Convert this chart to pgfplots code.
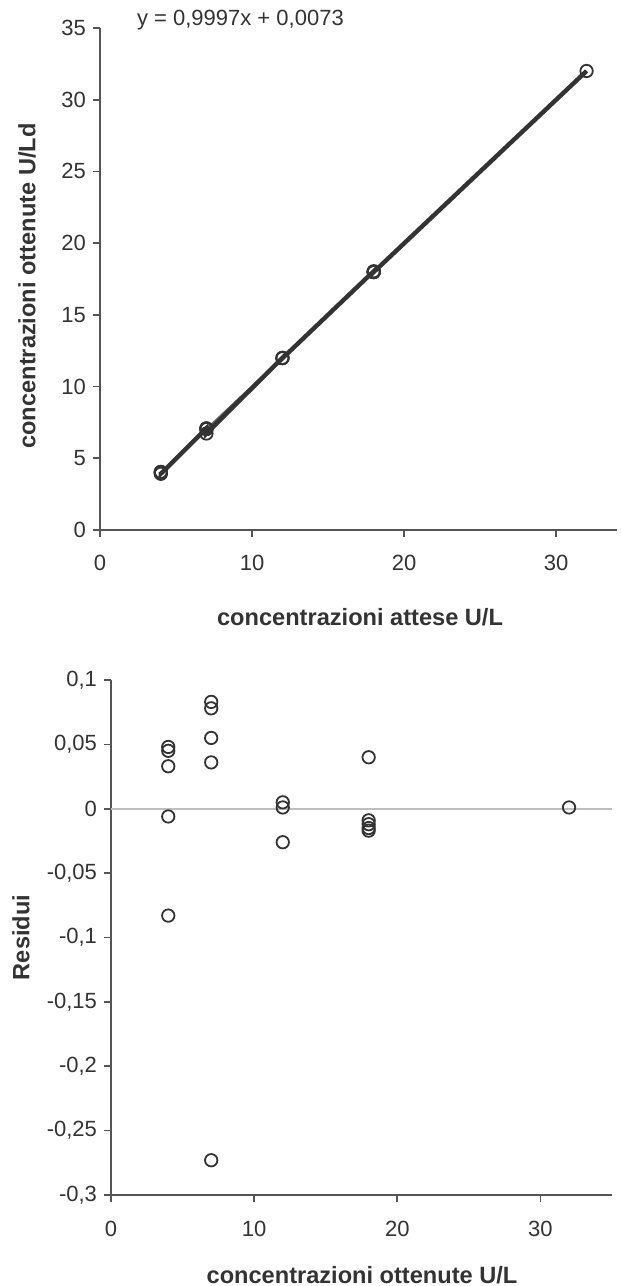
\documentclass[border=0pt]{standalone}
\usepackage{pgfplots}
\pgfplotsset{compat=1.18}
\usepackage{fontspec}
\setmainfont{Liberation Sans}
\definecolor{dk}{HTML}{333333}
\definecolor{ax}{HTML}{555555}
\definecolor{tx}{HTML}{333333}
\begin{document}
\begin{tikzpicture}
\useasboundingbox (0pt,0pt) rectangle (310.5pt,643pt);
\pgfplotsset{
  every axis/.append style={
    scale only axis,
    axis lines=left,
    axis line style={ax, line width=0.9pt, -},
    tick align=outside,
    tick style={ax, line width=0.8pt},
    major tick length=3.5pt,
    tick label style={font=\fontsize{11}{13}\selectfont, text=tx},
    xticklabel style={yshift=-5.5pt},
    label style={font=\fontsize{11.8}{14}\selectfont\bfseries, text=tx},
    /pgf/number format/assume math mode=true,
    clip=false,
  }
}
% top axis
\begin{axis}[
  at={(50pt,378pt)}, anchor=south west,
  width=258.5pt, height=251pt,
  xmin=0, xmax=34, ymin=0, ymax=35,
  xtick={0,10,20,30}, ytick={0,5,...,35},
  xlabel={concentrazioni attese U/L},
  ylabel={concentrazioni ottenute U/Ld},
  xlabel style={at={(axis description cs:0.503,-0.173)}, anchor=center},
  ylabel style={at={(axis description cs:-0.141,0.486)}, anchor=center},
]
\addplot[dk!80, line width=1.2pt] coordinates {(4,4.006) (32,31.998)};
\addplot[dk, line width=2.2pt, mark=o, mark size=3.1pt, mark options={line width=0.9pt, solid}] coordinates {
(4,4.048) (4,4.045) (4,4.033) (4,3.994) (4,3.917)
(7,7.083) (7,7.077) (7,7.054) (7,7.035) (7,6.727)
(12,12.004) (12,11.998) (12,11.973)
(18,18.040) (18,17.990) (18,17.987) (18,17.984) (18,17.982)
(32,32.001)
};
\node[anchor=west, font=\fontsize{11}{13}\selectfont, text=tx] at (rel axis cs:0.058,1.016) {y = 0,9997x + 0,0073};
\end{axis}
% bottom axis
\begin{axis}[
  at={(55.5pt,45.5pt)}, anchor=south west,
  width=250.5pt, height=257.5pt,
  xmin=0, xmax=35, ymin=-0.3, ymax=0.1,
  xtick={0,10,20,30},
  ytick={-0.3,-0.25,-0.2,-0.15,-0.1,-0.05,0,0.05,0.1},
  yticklabels={{-0,3},{-0,25},{-0,2},{-0,15},{-0,1},{-0,05},{0},{0,05},{0,1}},
  xticklabel style={yshift=-0.5pt},
  xlabel={concentrazioni ottenute U/L},
  ylabel={Residui},
  xlabel style={at={(axis description cs:0.501,-0.155)}, anchor=center},
  ylabel style={at={(axis description cs:-0.18,0.5)}, anchor=center},
]
\addplot[black!25, line width=0.9pt] coordinates {(0,0) (35,0)};
\addplot[only marks, dk, mark=o, mark size=3.1pt, mark options={line width=0.9pt}] coordinates {
(4,0.048) (4,0.045) (4,0.033) (4,-0.006) (4,-0.083)
(7,0.083) (7,0.078) (7,0.055) (7,0.036) (7,-0.273)
(12,0.005) (12,0.001) (12,-0.026)
(18,0.040) (18,-0.009) (18,-0.012) (18,-0.015) (18,-0.017)
(32,0.001)
};
\end{axis}
\end{tikzpicture}
\end{document}
